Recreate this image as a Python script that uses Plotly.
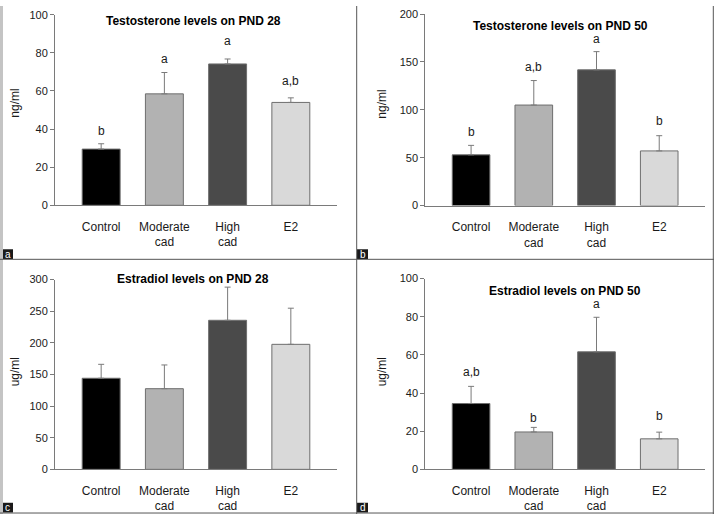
import plotly.graph_objects as go

W, H = 714, 520

categories = ["Control", "Moderate<br>cad", "High<br>cad", "E2"]
bar_colors = ["#000000", "#b2b2b2", "#4a4a4a", "#d9d9d9"]

# Panel a: Testosterone PND 28
a_vals = [29.5, 58.5, 74.2, 54.0]
a_err = [2.8, 11.2, 2.6, 2.4]
a_letters = ["b", "a", "a", "a,b"]
a_letter_y = [39, 77, 86.5, 65.5]

# Panel b: Testosterone PND 50
b_vals = [53.0, 105.0, 141.8, 57.1]
b_err = [9.9, 25.6, 19.0, 15.9]
b_letters = ["b", "a,b", "a", "b"]
b_letter_y = [76.5, 144.5, 174.5, 88.8]

# Panel c: Estradiol PND 28
c_vals = [144.0, 127.5, 235.6, 197.6]
c_err = [22.0, 37.5, 52.4, 57.1]

# Panel d: Estradiol PND 50
d_vals = [34.5, 19.6, 61.6, 16.0]
d_err = [9.0, 2.4, 18.1, 3.5]
d_letters = ["a,b", "b", "a", "b"]
d_letter_y = [50.8, 27.1, 86.8, 27.8]

panels = [
    dict(vals=a_vals, err=a_err, letters=a_letters, ly=a_letter_y, ymax=100, dtick=20,
         title="Testosterone levels on PND 28", unit="ng/ml",
         px=(55, 337), py=(204, 9), tpos=(193, 15), upos=(15, 100), tag="a", tagpos=(2, 249)),
    dict(vals=b_vals, err=b_err, letters=b_letters, ly=b_letter_y, ymax=200, dtick=50,
         title="Testosterone levels on PND 50", unit="ng/ml",
         px=(425.3, 705), py=(204.3, 8.3), tpos=(560, 20), upos=(382, 101), tag="b", tagpos=(357, 249)),
    dict(vals=c_vals, err=c_err, letters=None, ly=None, ymax=300, dtick=50,
         title="Estradiol levels on PND 28", unit="ug/ml",
         px=(55, 337), py=(474.3, 280), tpos=(192.5, 279.3), upos=(15, 375), tag="c", tagpos=(2, 508.5)),
    dict(vals=d_vals, err=d_err, letters=d_letters, ly=d_letter_y, ymax=100, dtick=20,
         title="Estradiol levels on PND 50", unit="ug/ml",
         px=(425.3, 705), py=(474.3, 279), tpos=(565.3, 291.3), upos=(382, 375), tag="d", tagpos=(357, 508.5)),
]

FONT = "Liberation Sans, Arial, sans-serif"
TXT = "#1a1a1a"
GRAY = "#7a7a7a"

fig = go.Figure()
annotations = []
shapes = []


def fx(px):
    return px / W


def fy(py):
    return 1 - py / H


for i, p in enumerate(panels):
    n = i + 1
    xa = "x" if n == 1 else f"x{n}"
    ya = "y" if n == 1 else f"y{n}"
    fig.add_trace(go.Bar(
        x=categories, y=p["vals"], xaxis=xa, yaxis=ya, width=0.6,
        marker=dict(color=bar_colors, line=dict(color="#6e6e6e", width=1)),
        error_y=dict(type="data", array=p["err"], arrayminus=[0] * 4, symmetric=False,
                     color=GRAY, thickness=1, width=3),
        showlegend=False, hoverinfo="skip",
    ))
    xk = "xaxis" if n == 1 else f"xaxis{n}"
    yk = "yaxis" if n == 1 else f"yaxis{n}"
    fig.update_layout(**{
        xk: dict(domain=[fx(p["px"][0]), fx(p["px"][1])], anchor=ya, range=[-0.73, 3.73],
                 showline=True, linecolor=GRAY, linewidth=1, ticks="", showgrid=False,
                 tickfont=dict(family=FONT, size=12, color=TXT), ticklabelstandoff=10,
                 fixedrange=True, zeroline=False),
        yk: dict(domain=[fy(p["py"][0]), fy(p["py"][1])], anchor=xa, range=[0, p["ymax"]],
                 dtick=p["dtick"], tick0=0, showline=True, linecolor=GRAY, linewidth=1,
                 ticks="outside", ticklen=4, tickcolor=GRAY, showgrid=False, zeroline=False,
                 tickfont=dict(family=FONT, size=11, color=TXT), fixedrange=True),
    })
    # title
    annotations.append(dict(text=f"<b>{p['title']}</b>", x=fx(p["tpos"][0]), y=fy(p["tpos"][1]),
                            xref="paper", yref="paper", showarrow=False, xanchor="center",
                            yanchor="middle", font=dict(family=FONT, size=12, color="#000")))
    # unit label
    annotations.append(dict(text=p["unit"], x=fx(p["upos"][0]), y=fy(p["upos"][1]),
                            xref="paper", yref="paper", showarrow=False, textangle=-90,
                            xanchor="center", yanchor="middle",
                            font=dict(family=FONT, size=12, color=TXT)))
    # significance letters
    if p["letters"]:
        for c, lt, ly in zip(categories, p["letters"], p["ly"]):
            annotations.append(dict(text=lt, x=c, y=ly, xref=xa, yref=ya, showarrow=False,
                                    xanchor="center", yanchor="middle",
                                    font=dict(family=FONT, size=12, color=TXT)))
    # tag box
    tx, ty = p["tagpos"]
    shapes.append(dict(type="rect", xref="paper", yref="paper", x0=fx(tx), x1=fx(tx + 11),
                       y0=fy(ty + 10), y1=fy(ty), fillcolor="#1a1a1a", line=dict(width=0)))
    annotations.append(dict(text=p["tag"], x=fx(tx + 5.5), y=fy(ty + 5), xref="paper", yref="paper",
                            showarrow=False, xanchor="center", yanchor="middle",
                            font=dict(family=FONT, size=10, color="#ffffff")))

# frame lines
BORDER = "#555555"
shapes += [
    dict(type="rect", xref="paper", yref="paper", x0=0, x1=fx(3), y0=0, y1=1,
         fillcolor="#c4c4c4", line=dict(width=0)),
    dict(type="line", xref="paper", yref="paper", x0=fx(356.7), x1=fx(356.7), y0=0, y1=1,
         line=dict(color=BORDER, width=1)),
    dict(type="line", xref="paper", yref="paper", x0=0, x1=1, y0=fy(259.3), y1=fy(259.3),
         line=dict(color=BORDER, width=1)),
    dict(type="line", xref="paper", yref="paper", x0=0, x1=1, y0=fy(519), y1=fy(519),
         line=dict(color=BORDER, width=1)),
    dict(type="line", xref="paper", yref="paper", x0=fx(713.3), x1=fx(713.3), y0=0, y1=1,
         line=dict(color=BORDER, width=1)),
]

fig.update_layout(
    width=W, height=H, margin=dict(l=0, r=0, t=0, b=0),
    paper_bgcolor="#ffffff", plot_bgcolor="#ffffff",
    annotations=annotations, shapes=shapes, bargap=0.4,
    font=dict(family=FONT, color=TXT),
)

fig.write_html(
    "out.html",
    config={"displayModeBar": False, "staticPlot": True},
    post_script="document.body.style.margin='0';document.body.style.overflow='hidden';",
)
